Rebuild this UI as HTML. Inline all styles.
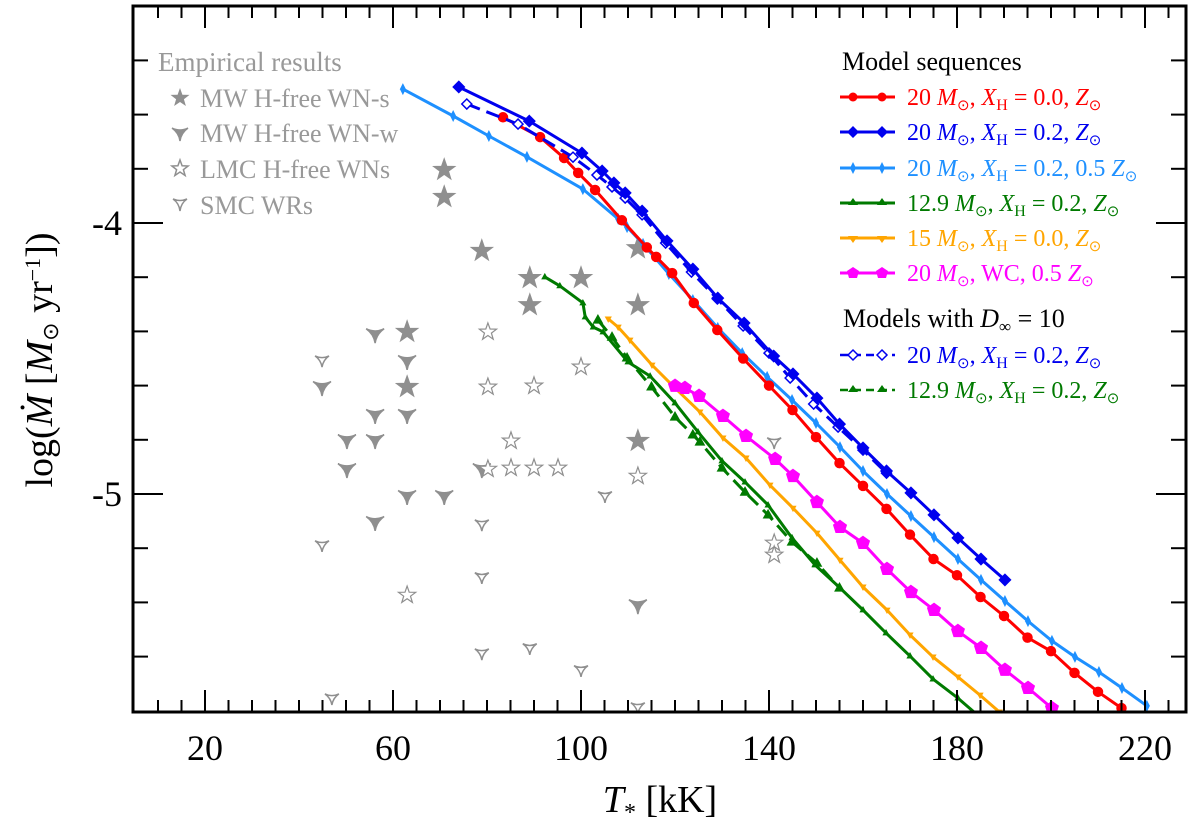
<!DOCTYPE html>
<html><head><meta charset="utf-8"><style>
html,body{margin:0;padding:0;background:#fff;}
svg{display:block;font-family:"Liberation Serif",serif;}
</style></head><body>
<svg id="chart" width="1200" height="829" viewBox="0 0 1200 829">
<g id="grey"></g>
<g id="series"></g>
<g id="axes"></g>
<g id="legend"></g>
</svg>
<script>
// ---- data ----
const xTicks = [20, 60, 100, 140, 180, 220];
const yTicks = [-4, -5];
const redT = [83.4,91.3,96.4,99.4,103,108.7,114,116,119.4,124,129,134.5,140,145,150,155,160,165,170,175,180,185,190,195,200,205,210,215];
const redM = [-3.61,-3.683,-3.76,-3.815,-3.878,-3.99,-4.09,-4.125,-4.185,-4.295,-4.395,-4.5,-4.6,-4.69,-4.79,-4.886,-4.97,-5.055,-5.15,-5.24,-5.30,-5.38,-5.45,-5.53,-5.58,-5.66,-5.73,-5.79];
const blueT = [74,89,100.2,104.5,107,109.4,113,118.3,123.8,129.1,134.7,141,145.1,150.2,155,160,165,170.2,175.1,180.2,185.1,190.2];
const blueM = [-3.498,-3.624,-3.742,-3.808,-3.852,-3.889,-3.956,-4.066,-4.17,-4.277,-4.369,-4.491,-4.557,-4.646,-4.742,-4.83,-4.915,-4.996,-5.077,-5.162,-5.24,-5.317];
const blueDT = [75.7,86.6,98.3,103.4,106.6,109.4,113,118,123.5,129,134.5,140,144.5,149.5,154.7,160,165];
const blueDM = [-3.561,-3.635,-3.757,-3.823,-3.867,-3.908,-3.97,-4.074,-4.181,-4.28,-4.38,-4.48,-4.572,-4.668,-4.753,-4.838,-4.923];
const lblueT = [62.1,72.8,80.4,88.5,100.4,107.9,109.8,113.2,118.7,123.8,129.1,134.3,139.6,144.9,150,155.1,160,165.1,170.2,175.1,180.2,185.1,190.2,195.1,200.2,205.1,210.2,215.1,220.4];
const lblueM = [-3.506,-3.605,-3.679,-3.756,-3.875,-3.985,-4.015,-4.077,-4.188,-4.284,-4.387,-4.48,-4.568,-4.653,-4.738,-4.827,-4.915,-5.0,-5.081,-5.159,-5.24,-5.317,-5.395,-5.469,-5.542,-5.601,-5.657,-5.716,-5.782];
const greenT = [92.3,95.5,100.4,100.9,102.6,104.7,110,114.7,120,124.9,130,134.9,139.8,144.9,149.8,154.9,160,164.9,170,174.9,180.2,185.1];
const greenM = [-4.199,-4.232,-4.295,-4.347,-4.384,-4.402,-4.513,-4.565,-4.664,-4.771,-4.878,-4.956,-5.041,-5.162,-5.262,-5.343,-5.428,-5.513,-5.598,-5.683,-5.753,-5.827];
const greenDT = [103.6,106.6,109.8,115,120,123.8,125.3,130,134.9,139.8,144.9,150.2,155];
const greenDM = [-4.358,-4.421,-4.498,-4.605,-4.716,-4.782,-4.808,-4.904,-4.993,-5.077,-5.177,-5.255,-5.347];
const orangeT = [105.8,107.9,110.4,115.1,120,125.3,130.2,135.1,140.2,145.1,150.2,155.1,160,165.1,170,174.9,180.2,184.9,189];
const orangeM = [-4.354,-4.384,-4.432,-4.524,-4.609,-4.697,-4.793,-4.867,-4.967,-5.052,-5.144,-5.244,-5.343,-5.428,-5.52,-5.601,-5.675,-5.742,-5.804];
const magT = [120,122.1,125.1,130.2,135.1,141.3,145.1,150.2,155.1,160,165.1,170.2,175.1,180.2,185.1,190.2,195.1,200.2];
const magM = [-4.601,-4.609,-4.638,-4.712,-4.786,-4.871,-4.934,-5.03,-5.122,-5.181,-5.277,-5.362,-5.428,-5.506,-5.568,-5.649,-5.716,-5.79];
const mwsT = [70.9,70.9,78.9,63,63,89.1,100,89.1,112.1,112.1,112.1];
const mwsM = [-3.804,-3.904,-4.103,-4.402,-4.605,-4.203,-4.203,-4.303,-4.093,-4.303,-4.804];
const mwwT = [56.2,63,44.9,56.2,63,50.2,56.2,50.2,78.9,63,70.9,56.2,112.1];
const mwwM = [-4.41,-4.509,-4.605,-4.708,-4.708,-4.801,-4.801,-4.908,-4.908,-5.007,-5.007,-5.103,-5.41];
const lmcT = [80.2,80.2,80.2,63,100,90,85.1,85.1,90,95.1,112.1,141.1,141.1];
const lmcM = [-4.402,-4.605,-4.908,-5.373,-4.531,-4.601,-4.804,-4.904,-4.904,-4.904,-4.934,-5.181,-5.225];
const smcT = [44.9,44.9,78.9,78.9,78.9,47,105.1,89.1,100,112.1,141.1];
const smcM = [-4.506,-5.188,-5.111,-5.306,-5.587,-5.753,-5.007,-5.568,-5.649,-5.786,-4.808];

// ---- geometry ----
const L=133,R=1186,T0=6,B=712;
function X(t){return 205+(t-20)*4.7;}
function Y(m){return 223+(-4-m)*271;}
const NS="http://www.w3.org/2000/svg";
function mk(tag,attrs,parent){const e=document.createElementNS(NS,tag);for(const k in attrs)e.setAttribute(k,attrs[k]);parent.appendChild(e);return e;}

const defs=mk('defs',{},document.getElementById('chart'));
const cp=mk('clipPath',{id:'clip'},defs);
mk('rect',{x:L,y:T0,width:R-L,height:B-T0},cp);

function starPath(cx,cy,r){let d='';for(let i=0;i<10;i++){const a=-Math.PI/2+i*Math.PI/5;const rr=i%2?r*0.4:r;d+=(i?'L':'M')+(cx+rr*Math.cos(a)).toFixed(1)+','+(cy+rr*Math.sin(a)).toFixed(1);}return d+'Z';}
function yPath(cx,cy,s){return `M${cx-s},${cy-s*0.6} Q${cx},${cy-s*0.1} ${cx+s},${cy-s*0.6} Q${cx+s*0.15},${cy} ${cx},${cy+s} Q${cx-s*0.15},${cy} ${cx-s},${cy-s*0.6}Z`;}
function marker(g,type,cx,cy,color,size,fill){
  let e;
  if(type==='circle') e=mk('circle',{cx,cy,r:size,fill:fill||color,stroke:color,'stroke-width':1.5},g);
  else if(type==='diamond') e=mk('path',{d:`M${cx},${cy-size}L${cx+size},${cy}L${cx},${cy+size}L${cx-size},${cy}Z`,fill:fill||color,stroke:color,'stroke-width':1.5},g);
  else if(type==='thin') e=mk('path',{d:`M${cx},${cy-size}L${cx+size*0.5},${cy}L${cx},${cy+size}L${cx-size*0.5},${cy}Z`,fill:color},g);
  else if(type==='up') e=mk('path',{d:`M${cx},${cy-size}L${cx+size*0.9},${cy+size*0.6}L${cx-size*0.9},${cy+size*0.6}Z`,fill:color},g);
  else if(type==='down') e=mk('path',{d:`M${cx},${cy+size}L${cx+size*0.9},${cy-size*0.6}L${cx-size*0.9},${cy-size*0.6}Z`,fill:color},g);
  else if(type==='pent'){let d='';for(let i=0;i<5;i++){const a=-Math.PI/2+i*2*Math.PI/5;d+=(i?'L':'M')+(cx+size*Math.cos(a)).toFixed(1)+','+(cy+size*Math.sin(a)).toFixed(1);}e=mk('path',{d:d+'Z',fill:fill||color,stroke:color,'stroke-width':1.5},g);}
  else if(type==='star') e=mk('path',{d:starPath(cx,cy,size),fill:fill||color,stroke:color,'stroke-width':1.2},g);
  else if(type==='Y') e=mk('path',{d:yPath(cx,cy,size),fill:fill||color,stroke:color,'stroke-width':1.5},g);
  return e;
}

const grey=document.getElementById('grey');
grey.setAttribute('clip-path','url(#clip)');
const greyCol='#8f8f8f';
function greySet(ts,ms,type,fill,name,size){
  const g=mk('g',{},grey);
  
  
  for(let i=0;i<ts.length;i++){
    const e=marker(g,type,X(ts[i]),Y(ms[i]),greyCol,size,fill);
    
    
  }
}
greySet(mwsT,mwsM,'star',null,'mw-wn-s-stars',11);
greySet(mwwT,mwwM,'Y',null,'mw-wn-w-markers',9);
greySet(lmcT,lmcM,'star','#fff','lmc-wn-stars',9);
greySet(smcT,smcM,'Y','#fff','smc-wr-markers',7);

const sg=document.getElementById('series');
sg.setAttribute('clip-path','url(#clip)');
function series(ts,ms,color,type,size,name,dash,fill){
  const g=mk('g',{},sg);
  
  
  const pts=ts.map((t,i)=>X(t).toFixed(1)+','+Y(ms[i]).toFixed(1)).join(' ');
  const pl=mk('polyline',{points:pts,fill:'none',stroke:color,'stroke-width':3,'stroke-linejoin':'round'},g);
  if(dash) pl.setAttribute('stroke-dasharray',dash);
  
  
  for(let i=0;i<ts.length;i++){
    const e=marker(g,type,X(ts[i]),Y(ms[i]),color,size,fill);
    
    
  }
}
series(lblueT,lblueM,'#1e90ff','thin',6,'series-20-xh02-halfz');
series(redT,redM,'#ff0000','circle',4.5,'series-20-xh0');
series(blueDT,blueDM,'#0000ee','diamond',5,'series-20-xh02-dinf10','14,7','#fff');
series(blueT,blueM,'#0000ee','diamond',5.5,'series-20-xh02');
series(greenDT,greenDM,'#007a00','up',6,'series-12p9-dinf10','14,7');
series(greenT,greenM,'#007a00','up',4,'series-12p9-xh02');
series(orangeT,orangeM,'#ffa500','down',4,'series-15-xh0');
series(magT,magM,'#ff00ff','pent',6.5,'series-20-wc');

const ax=document.getElementById('axes');
const frame=mk('rect',{x:L,y:T0,width:R-L,height:B-T0,fill:'none',stroke:'#000','stroke-width':3},ax);


for(let t=5;t<=225;t+=5){
  const x=X(t); if(x<=L+2||x>=R-2) continue;
  const major=(t-20)%40===0;
  const len=major?22:12;
  mk('line',{x1:x,y1:B,x2:x,y2:B-len,stroke:'#000','stroke-width':2},ax);
  mk('line',{x1:x,y1:T0,x2:x,y2:T0+len,stroke:'#000','stroke-width':2},ax);
}
for(let k=-29;k<=-16;k++){
  const m=k/5; const y=Y(m); if(y<=T0+2||y>=B-2) continue;
  const major=Math.abs(m-Math.round(m))<1e-6;
  const len=major?30:15;
  mk('line',{x1:L,y1:y,x2:L+len,y2:y,stroke:'#000','stroke-width':2},ax);
  mk('line',{x1:R,y1:y,x2:R-len,y2:y,stroke:'#000','stroke-width':2},ax);
}
xTicks.forEach(t=>{
  const e=mk('text',{x:X(t),y:760,'text-anchor':'middle','font-size':36},ax);
  e.textContent=String(t);
  
  
});
yTicks.forEach(m=>{
  const e=mk('text',{x:122,y:Y(m)+12,'text-anchor':'end','font-size':36},ax);
  e.textContent=String(m);
  
  
});
</script>
<div style="position:absolute;left:0;top:0;width:1200px;height:829px;pointer-events:none;">
<svg width="1200" height="829" style="position:absolute;left:0;top:0;font-family:'Liberation Serif',serif;">
<text x="660" y="812" text-anchor="middle" font-size="38"><tspan font-style="italic">T</tspan><tspan font-size="24" dy="8">*</tspan><tspan dy="-8"> [kK]</tspan></text>
<text transform="translate(52,360) rotate(-90)" text-anchor="middle" font-size="38">log(<tspan font-style="italic">Ṁ</tspan> [<tspan font-style="italic">M</tspan><tspan font-size="22" dy="6">⊙</tspan><tspan dy="-6"> yr</tspan><tspan font-size="22" dy="-12">−1</tspan><tspan dy="12">])</tspan></text>

<g fill="#999" font-size="26">
<text x="158" y="71" font-size="27">Empirical results</text>
<text x="200" y="107">MW H-free WN-s</text>
<text x="200" y="142">MW H-free WN-w</text>
<text x="200" y="178">LMC H-free WNs</text>
<text x="200" y="214">SMC WRs</text>
<path d="M180,88 L182.4,94.7 L189.5,94.9 L183.9,99.2 L185.9,106 L180,102 L174.1,106 L176.1,99.2 L170.5,94.9 L177.6,94.7Z" fill="#8f8f8f"/>
<path d="M172,128 Q180,132 188,128 Q181,133 180,141 Q179,133 172,128Z" fill="#8f8f8f" stroke="#8f8f8f" stroke-width="1.5"/>
<path d="M180,160 L182.1,165.8 L188.1,166 L183.4,169.7 L185.1,175.5 L180,172 L174.9,175.5 L176.6,169.7 L171.9,166 L177.9,165.8Z" fill="#fff" stroke="#8f8f8f" stroke-width="1.5"/>
<path d="M173,199 Q180,202 187,199 Q181,203 180,211 Q179,203 173,199Z" fill="#fff" stroke="#8f8f8f" stroke-width="1.5"/>
</g>

<g font-size="24">
<text x="842" y="70" font-size="26">Model sequences</text>
<g fill="#ff0000"><line x1="840" y1="97" x2="895" y2="97" stroke="#ff0000" stroke-width="3"/><circle cx="853" cy="97" r="4.5"/><circle cx="882" cy="97" r="4.5"/>
<text x="907" y="105">20 <tspan font-style="italic">M</tspan><tspan font-size="15" dy="5">⊙</tspan><tspan dy="-5">, </tspan><tspan font-style="italic">X</tspan><tspan font-size="16" dy="5">H</tspan><tspan dy="-5"> = 0.0, </tspan><tspan font-style="italic">Z</tspan><tspan font-size="15" dy="5">⊙</tspan></text></g>
<g fill="#0000ee"><line x1="840" y1="132" x2="895" y2="132" stroke="#0000ee" stroke-width="3"/><path d="M853,126L859,132L853,138L847,132Z M882,126L888,132L882,138L876,132Z"/>
<text x="907" y="140">20 <tspan font-style="italic">M</tspan><tspan font-size="15" dy="5">⊙</tspan><tspan dy="-5">, </tspan><tspan font-style="italic">X</tspan><tspan font-size="16" dy="5">H</tspan><tspan dy="-5"> = 0.2, </tspan><tspan font-style="italic">Z</tspan><tspan font-size="15" dy="5">⊙</tspan></text></g>
<g fill="#1e90ff"><line x1="840" y1="168" x2="895" y2="168" stroke="#1e90ff" stroke-width="3"/><path d="M853,162L856,168L853,174L850,168Z M882,162L885,168L882,174L879,168Z"/>
<text x="907" y="176">20 <tspan font-style="italic">M</tspan><tspan font-size="15" dy="5">⊙</tspan><tspan dy="-5">, </tspan><tspan font-style="italic">X</tspan><tspan font-size="16" dy="5">H</tspan><tspan dy="-5"> = 0.2, 0.5 </tspan><tspan font-style="italic">Z</tspan><tspan font-size="15" dy="5">⊙</tspan></text></g>
<g fill="#007a00"><line x1="840" y1="203" x2="895" y2="203" stroke="#007a00" stroke-width="3"/><path d="M853,198L858,205L848,205Z M882,198L887,205L877,205Z"/>
<text x="907" y="211">12.9 <tspan font-style="italic">M</tspan><tspan font-size="15" dy="5">⊙</tspan><tspan dy="-5">, </tspan><tspan font-style="italic">X</tspan><tspan font-size="16" dy="5">H</tspan><tspan dy="-5"> = 0.2, </tspan><tspan font-style="italic">Z</tspan><tspan font-size="15" dy="5">⊙</tspan></text></g>
<g fill="#ffa500"><line x1="840" y1="238" x2="895" y2="238" stroke="#ffa500" stroke-width="3"/><path d="M853,243L858,236L848,236Z M882,243L887,236L877,236Z"/>
<text x="907" y="246">15 <tspan font-style="italic">M</tspan><tspan font-size="15" dy="5">⊙</tspan><tspan dy="-5">, </tspan><tspan font-style="italic">X</tspan><tspan font-size="16" dy="5">H</tspan><tspan dy="-5"> = 0.0, </tspan><tspan font-style="italic">Z</tspan><tspan font-size="15" dy="5">⊙</tspan></text></g>
<g fill="#ff00ff"><line x1="840" y1="273" x2="895" y2="273" stroke="#ff00ff" stroke-width="3"/><path d="M853,267L859,271L857,278L849,278L847,271Z M882,267L888,271L886,278L878,278L876,271Z"/>
<text x="907" y="281">20 <tspan font-style="italic">M</tspan><tspan font-size="15" dy="5">⊙</tspan><tspan dy="-5">, WC, 0.5 </tspan><tspan font-style="italic">Z</tspan><tspan font-size="15" dy="5">⊙</tspan></text></g>
<text x="843" y="327" font-size="26">Models with <tspan font-style="italic">D</tspan><tspan font-size="17" dy="5">∞</tspan><tspan dy="-5"> = 10</tspan></text>
<g fill="#0000ee"><line x1="840" y1="355" x2="895" y2="355" stroke="#0000ee" stroke-width="2.5" stroke-dasharray="8,5"/><path d="M853,350L858,355L853,360L848,355Z M882,350L887,355L882,360L877,355Z" fill="#fff" stroke="#0000ee" stroke-width="1.5"/>
<text x="907" y="363">20 <tspan font-style="italic">M</tspan><tspan font-size="15" dy="5">⊙</tspan><tspan dy="-5">, </tspan><tspan font-style="italic">X</tspan><tspan font-size="16" dy="5">H</tspan><tspan dy="-5"> = 0.2, </tspan><tspan font-style="italic">Z</tspan><tspan font-size="15" dy="5">⊙</tspan></text></g>
<g fill="#007a00"><line x1="840" y1="390" x2="895" y2="390" stroke="#007a00" stroke-width="2.5" stroke-dasharray="8,5"/><path d="M853,385L858,392L848,392Z M882,385L887,392L877,392Z"/>
<text x="907" y="398">12.9 <tspan font-style="italic">M</tspan><tspan font-size="15" dy="5">⊙</tspan><tspan dy="-5">, </tspan><tspan font-style="italic">X</tspan><tspan font-size="16" dy="5">H</tspan><tspan dy="-5"> = 0.2, </tspan><tspan font-style="italic">Z</tspan><tspan font-size="15" dy="5">⊙</tspan></text></g>
</g>
</svg>
</div>
</body></html>
